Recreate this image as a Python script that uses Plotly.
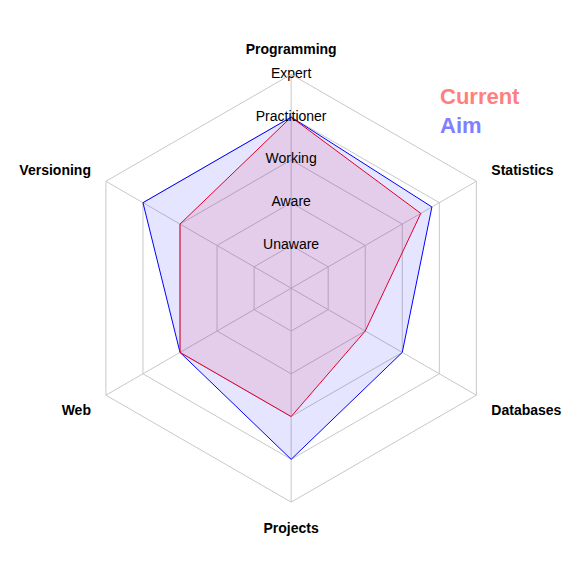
import plotly.graph_objects as go

skills = ["Programming", "Statistics", "Databases", "Projects", "Web", "Versioning"]
current = [4, 3.5, 2, 3, 3, 3]
aim = [4, 3.8, 3, 4, 3, 4]
levels = [1, 2, 3, 4, 5]
level_labels = ["Unaware", "Aware", "Working", "Practitioner", "Expert"]

fig = go.Figure()
fig.add_trace(go.Scatterpolar(r=aim + aim[:1], theta=skills + skills[:1], fill="toself",
                              fillcolor="rgba(0,0,255,0.1)", line=dict(color="blue", width=1),
                              mode="lines", name="Aim"))
fig.add_trace(go.Scatterpolar(r=current + current[:1], theta=skills + skills[:1], fill="toself",
                              fillcolor="rgba(220,0,60,0.1)", line=dict(color="#e0002a", width=1),
                              mode="lines", name="Current"))
fig.add_trace(go.Scatterpolar(r=levels, theta=[skills[0]] * len(levels), mode="text",
                              text=level_labels, textposition="middle center",
                              textfont=dict(size=14, color="black"), hoverinfo="skip"))
fig.update_layout(
    width=582, height=582, margin=dict(l=0, r=0, t=0, b=0),
    paper_bgcolor="white", showlegend=False,
    font=dict(family="Liberation Sans, Arial", color="black"),
    polar=dict(
        domain=dict(x=[0.119, 0.854], y=[0.151, 0.886]),
        gridshape="linear", bgcolor="white",
        angularaxis=dict(rotation=90, direction="clockwise", linecolor="#c8c8c8",
                         gridcolor="#c8c8c8", ticks="outside", ticklen=14,
                         tickcolor="rgba(0,0,0,0)", tickprefix="<b>", ticksuffix="</b>",
                         tickfont=dict(size=14, color="black")),
        radialaxis=dict(range=[0, 5], tickvals=levels, showticklabels=False,
                        showline=False, ticks="", gridcolor="#c8c8c8"),
    ),
    annotations=[
        dict(text="<b>Current</b>", x=430 / 582, y=1 - 88 / 582, xref="paper", yref="paper",
             xanchor="left", yanchor="middle", showarrow=False,
             font=dict(size=22, color="#ff7f7f")),
        dict(text="<b>Aim</b>", x=430 / 582, y=1 - 118 / 582, xref="paper", yref="paper",
             xanchor="left", yanchor="middle", showarrow=False,
             font=dict(size=22, color="#7f7fff")),
    ],
)
fig.write_html("out.html")
